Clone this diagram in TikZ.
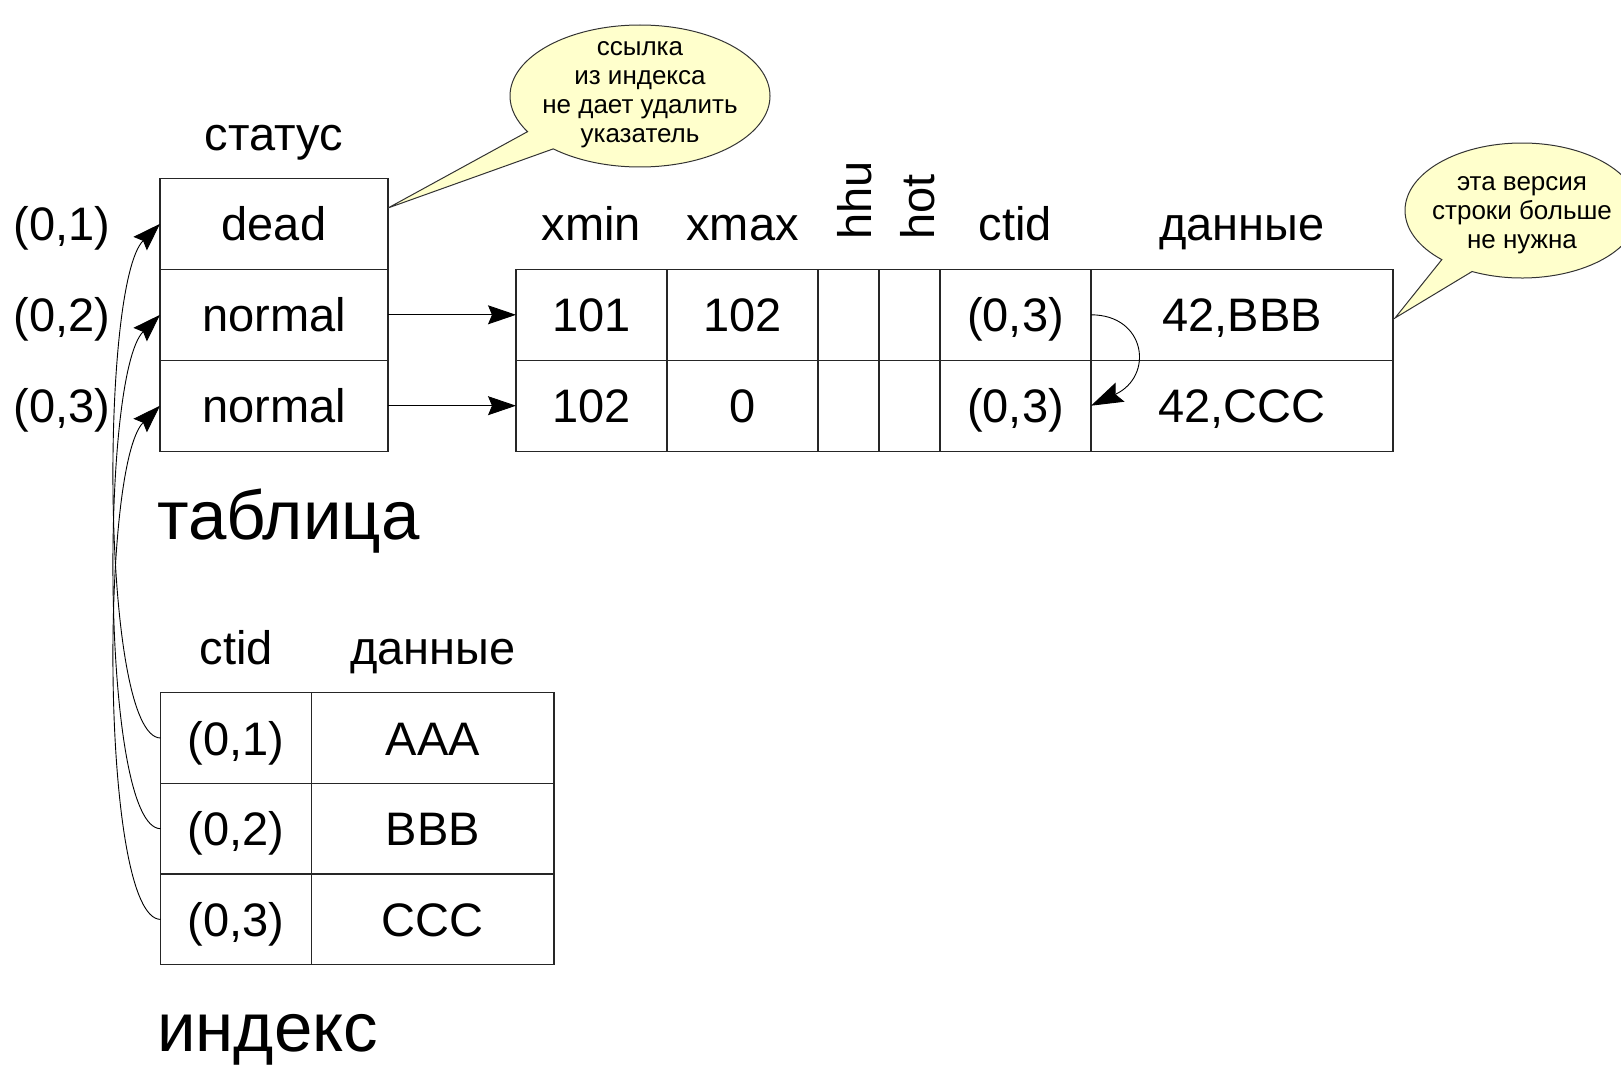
\documentclass[tikz,border=0pt]{standalone}
\usepackage{fontspec}
\setmainfont{Liberation Sans}
\usetikzlibrary{arrows.meta, shapes}
\definecolor{notefill}{RGB}{255,255,204}

\tikzset{
  cell/.style={draw=black!85, line width=1.2pt, minimum height=90.9pt, inner sep=0pt, outer sep=0pt,
    text height=34pt, text depth=0pt, font=\fontsize{47}{56}\selectfont},
  headtxt/.style={anchor=base, inner sep=0pt, font=\fontsize{47}{56}\selectfont},
  lbl/.style={inner sep=0pt, text height=34pt, text depth=0pt, font=\fontsize{47}{56}\selectfont},
  tabname/.style={anchor=base west, inner sep=0pt, font=\fontsize{69}{80}\selectfont},
  ptr/.style={-{Stealth[length=28pt,width=19pt,inset=4pt]}, line width=0.9pt},
  callbox/.style={ellipse callout, draw=black!80, line width=1pt, fill=notefill},
  notetext/.style={align=center, inner sep=0pt, font=\fontsize{26}{29}\selectfont}
}

\begin{document}
\begin{tikzpicture}[x=1pt, y=1pt]
        \useasboundingbox (0,0) rectangle (1621,-1065);

        % status column
        \node[headtxt] (hstat) at (274,-150) {статус};
        \node[cell, minimum width=228pt] (s1) at (274,-223.8) {dead};
        \node[cell, minimum width=228pt] (s2) at (274,-314.8) {normal};
        \node[cell, minimum width=228pt] (s3) at (274,-405.7) {normal};

        \node[lbl] (p1) at (62,-223.8) {(0,1)};
        \node[lbl] (p2) at (62,-314.8) {(0,2)};
        \node[lbl] (p3) at (62,-405.7) {(0,3)};

        \node[tabname] (ttab) at (157,-539) {таблица};

        % row versions
        \node[headtxt] (hxmin) at (591.5,-240) {xmin};
        \node[headtxt] (hxmax) at (742.5,-240) {xmax};
        \node[headtxt, rotate=90, anchor=west] (hhhu) at (855,-240) {hhu};
        \node[headtxt, rotate=90, anchor=west] (hhot) at (918,-240) {hot};
        \node[headtxt] (hctid) at (1015.5,-240) {ctid};
        \node[headtxt] (hdata) at (1242,-240) {данные};

        \node[cell, minimum width=151pt] (v1x) at (591.5,-314.8) {101};
        \node[cell, minimum width=151pt] (v1m) at (742.5,-314.8) {102};
        \node[cell, minimum width=61pt] (v1h) at (848.5,-314.8) {};
        \node[cell, minimum width=61pt] (v1o) at (909.5,-314.8) {};
        \node[cell, minimum width=151pt] (v1c) at (1015.5,-314.8) {(0,3)};
        \node[cell, minimum width=302pt] (v1d) at (1242,-314.8) {42,BBB};

        \node[cell, minimum width=151pt] (v2x) at (591.5,-405.7) {102};
        \node[cell, minimum width=151pt] (v2m) at (742.5,-405.7) {0};
        \node[cell, minimum width=61pt] (v2h) at (848.5,-405.7) {};
        \node[cell, minimum width=61pt] (v2o) at (909.5,-405.7) {};
        \node[cell, minimum width=151pt] (v2c) at (1015.5,-405.7) {(0,3)};
        \node[cell, minimum width=302pt] (v2d) at (1242,-405.7) {42,CCC};

        % index
        \node[headtxt] (ictid) at (236.2,-664) {ctid};
        \node[headtxt] (idata) at (432.9,-664) {данные};

        \node[cell, minimum width=151pt, minimum height=90.7pt] (i1c) at (236.2,-738) {(0,1)};
        \node[cell, minimum width=242.3pt, minimum height=90.7pt] (i1d) at (432.9,-738) {AAA};
        \node[cell, minimum width=151pt, minimum height=90.7pt] (i2c) at (236.2,-828.7) {(0,2)};
        \node[cell, minimum width=242.3pt, minimum height=90.7pt] (i2d) at (432.9,-828.7) {BBB};
        \node[cell, minimum width=151pt, minimum height=90.7pt] (i3c) at (236.2,-919.4) {(0,3)};
        \node[cell, minimum width=242.3pt, minimum height=90.7pt] (i3d) at (432.9,-919.4) {CCC};

        \node[tabname] (tidx) at (157,-1051) {индекс};

        % pointers
        \draw[ptr] (s2.east) -- (v1x.west);
        \draw[ptr] (s3.east) -- (v2x.west);
        \draw[ptr, -{Stealth[length=32pt,width=21pt,inset=5pt]}] (v1c.east) .. controls +(0:55pt) and +(25:70pt) .. (v2c.east);

        \draw[ptr] (i1c.west) .. controls +(180:60pt) and +(225:85pt) .. (s1.west);
        \draw[ptr] (i2c.west) .. controls +(180:60pt) and +(225:85pt) .. (s2.west);
        \draw[ptr] (i3c.west) .. controls +(180:60pt) and +(225:85pt) .. (s3.west);

        % callouts
        \coordinate (tipA) at (388,-208);
        \coordinate (tipB) at (1395,-318);
        \node[callbox, minimum width=260pt, minimum height=142pt, callout pointer arc=18,
              callout absolute pointer={(tipA)}] (noteA) at (640,-96) {};
        \node[notetext] (txtA) at (640,-94.4) {ссылка\\из индекса\\не дает удалить\\указатель};
        \node[callbox, minimum width=234pt, minimum height=135pt, callout pointer arc=18,
              callout absolute pointer={(tipB)}] (noteB) at (1522,-210.5) {};
        \node[notetext] (txtB) at (1522,-215.4) {эта версия\\строки больше\\не нужна};
    \end{tikzpicture}
\end{document}
